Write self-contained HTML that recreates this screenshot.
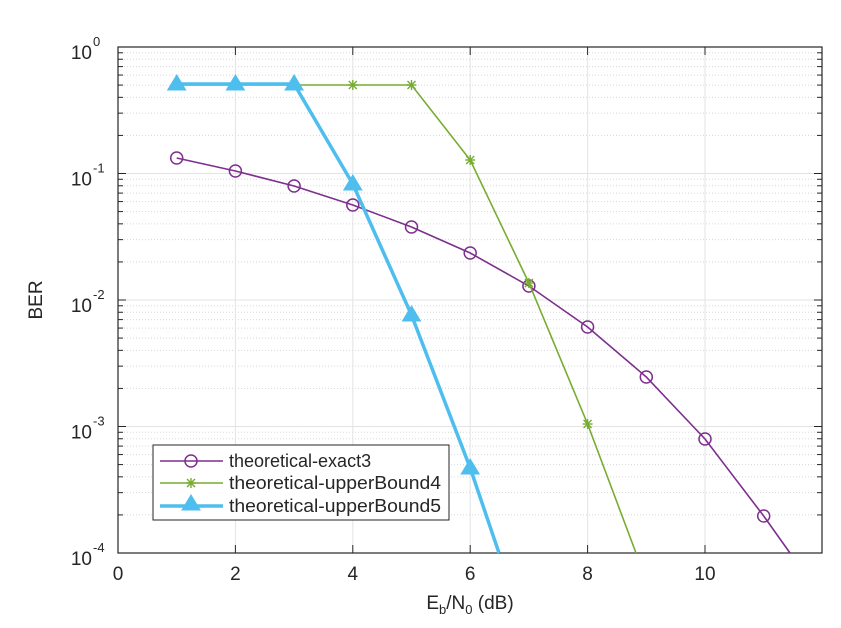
<!DOCTYPE html>
<html><head><style>body{margin:0;background:#fff}svg{display:block}text{font-family:"Liberation Sans",sans-serif;fill:#262626}</style></head>
<body>
<svg id="s" width="841" height="628" xmlns="http://www.w3.org/2000/svg"></svg>
<script>
const L=118,R=822,T=47,B=553,D=126.5;
const X=x=>L+58.7*x;
const fs=n=>`style="font-size:${n}px"`;
let h='<rect x="0" y="0" width="841" height="628" fill="#fff"/>';
for(let d=0;d<4;d++)for(let k=2;k<=9;k++){const y=T+(d+1)*D-Math.log10(k)*D;h+=`<line x1="${L}" x2="${R}" y1="${y}" y2="${y}" stroke="#d8d8d8" stroke-width="1" stroke-dasharray="1,2"/>`;
h+=`<line x1="${L}" x2="${L+5}" y1="${y}" y2="${y}" stroke="#262626"/><line x1="${R}" x2="${R-5}" y1="${y}" y2="${y}" stroke="#262626"/>`;}
for(let i=1;i<4;i++){const y=T+i*D;h+=`<line x1="${L}" x2="${R}" y1="${y}" y2="${y}" stroke="#e3e3e3"/>`;}
for(let x=2;x<=10;x+=2)h+=`<line x1="${X(x)}" x2="${X(x)}" y1="${T}" y2="${B}" stroke="#e3e3e3"/>`;
for(let i=0;i<=4;i++){const y=T+i*D;h+=`<line x1="${L}" x2="${L+8}" y1="${y}" y2="${y}" stroke="#262626"/><line x1="${R}" x2="${R-8}" y1="${y}" y2="${y}" stroke="#262626"/>`;
h+=`<text x="92" y="${y+12}" ${fs(19)} text-anchor="end">10</text><text x="93" y="${y-1}" ${fs(13)}>${i?'-'+i:'0'}</text>`;}
for(let x=0;x<=10;x+=2){h+=`<line x1="${X(x)}" x2="${X(x)}" y1="${B}" y2="${B-8}" stroke="#262626"/><line x1="${X(x)}" x2="${X(x)}" y1="${T}" y2="${T+8}" stroke="#262626"/><text x="${X(x)}" y="${B+27}" ${fs(19)} text-anchor="middle">${x}</text>`;}
h+=`<rect x="${L}" y="${T}" width="${R-L}" height="${B-T}" fill="none" stroke="#262626" stroke-width="1.2"/>`;
h+=`<text x="470" y="609" ${fs(19)} text-anchor="middle">E<tspan ${fs(13)} dy="5">b</tspan><tspan dy="-5">/N</tspan><tspan ${fs(13)} dy="5">0</tspan><tspan dy="-5"> (dB)</tspan></text>`;
h+=`<text transform="translate(42,300) rotate(-90)" ${fs(19)} text-anchor="middle">BER</text>`;
const P=a=>a.map(p=>p.join(',')).join(' ');
const ex=[158,171,186,205,227,253,286,327,377,439,516].map((y,i)=>[X(i+1),y]);
const g=[85,85,85,85,85,160,283,424].map((y,i)=>[X(i+1),y]);
const b=[84,84,84,184,315,468].map((y,i)=>[X(i+1),y]);
h+=`<svg x="${L}" y="${T}" width="${R-L}" height="${B-T+1}" overflow="hidden"><g transform="translate(${-L},${-T})">`;
h+=`<polyline points="${P(ex)} 790,553" fill="none" stroke="#7e2f8e" stroke-width="1.6"/>`;
ex.forEach(p=>h+=`<circle cx="${p[0]}" cy="${p[1]}" r="6" fill="none" stroke="#7e2f8e" stroke-width="1.5"/>`);
h+=`<polyline points="${P(g)} 636,553" fill="none" stroke="#77ac30" stroke-width="1.6"/>`;
const star=(x,y,c)=>`<g stroke="${c}" stroke-width="1.4"><line x1="${x-5}" x2="${x+5}" y1="${y}" y2="${y}"/><line x1="${x}" x2="${x}" y1="${y-5}" y2="${y+5}"/><line x1="${x-4}" x2="${x+4}" y1="${y-4}" y2="${y+4}"/><line x1="${x-4}" x2="${x+4}" y1="${y+4}" y2="${y-4}"/></g>`;
g.forEach(p=>h+=star(p[0],p[1],'#77ac30'));
h+=`<polyline points="${P(b)} 499,553" fill="none" stroke="#4dbeee" stroke-width="3.5"/>`;
const tri=(x,y)=>`<polygon points="${x},${y-9} ${x-9},${y+6} ${x+9},${y+6}" fill="#4dbeee" stroke="#4dbeee" stroke-width="1"/>`;
b.forEach(p=>h+=tri(p[0],p[1]));
h+=`</g></svg>`;
h+=`<rect x="153" y="445" width="296" height="75" fill="#fff" stroke="#262626"/>`;
h+=`<line x1="160" x2="223" y1="461" y2="461" stroke="#7e2f8e" stroke-width="1.6"/><circle cx="191" cy="461" r="6" fill="none" stroke="#7e2f8e" stroke-width="1.5"/>`;
h+=`<line x1="160" x2="223" y1="483" y2="483" stroke="#77ac30" stroke-width="1.6"/>`+star(191,483,'#77ac30');
h+=`<line x1="160" x2="223" y1="506" y2="506" stroke="#4dbeee" stroke-width="3.5"/>`+tri(191,504);
h+=`<text x="229" y="467" ${fs(18)} textLength="213">theoretical-exact3</text>`.replace(' textLength="213"','');
h+=`<text x="229" y="489" ${fs(18)} textLength="212" lengthAdjust="spacingAndGlyphs">theoretical-upperBound4</text><text x="229" y="512" ${fs(18)} textLength="212" lengthAdjust="spacingAndGlyphs">theoretical-upperBound5</text>`;
document.getElementById('s').innerHTML=h;
</script>
</body></html>
